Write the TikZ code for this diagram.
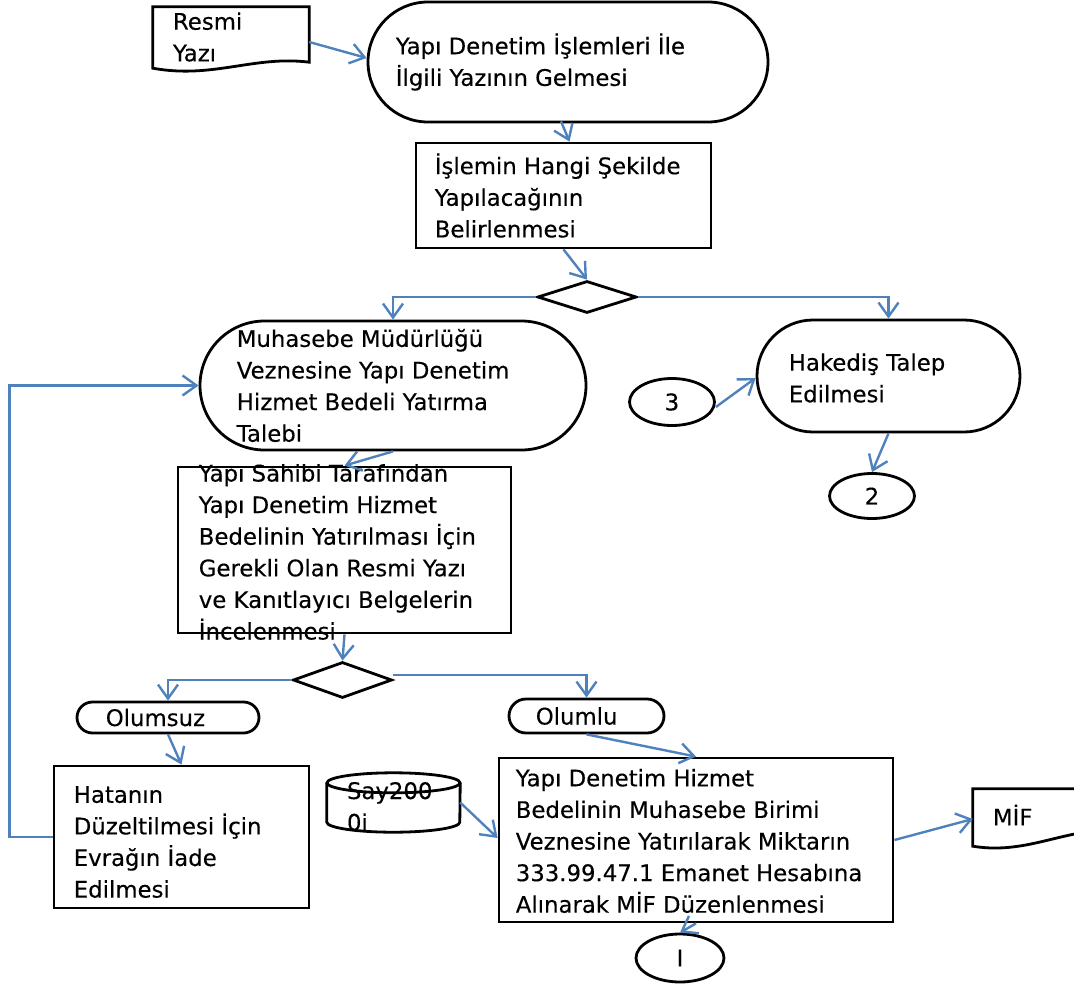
\documentclass[tikz,border=0pt]{standalone}
\usepackage{fontspec}
\setmainfont[FakeBold=0.3]{DejaVu Sans}
\usetikzlibrary{shapes.misc,shapes.geometric,arrows.meta,calc}
\definecolor{flowblue}{RGB}{79,129,189}
\newcommand{\flowfont}{\fontsize{22.8}{31.6}\selectfont}
\tikzset{
  blk/.style={draw, line width=2.8pt, inner sep=0pt},
  term/.style={blk, rounded rectangle},
  proc/.style={blk, rectangle},
  dec/.style={blk, diamond, aspect=3},
  conn/.style={blk, ellipse, font=\flowfont},
  doc/.style={rectangle, inner sep=0pt},
  docline/.style={line width=2.8pt},
  txt/.style={inner sep=0pt, align=left, anchor=west, font=\flowfont},
  flow/.style={draw=flowblue, line width=2.4pt, -{Straight Barb[length=14pt,width=20pt]}},
}
\begin{document}
\begin{tikzpicture}[x=1pt, y=-1pt]
  \useasboundingbox (0,0) rectangle (1074,985);
  \node[doc, minimum width=156pt, minimum height=60pt] (res) at (231,37) {};
  \node[term, minimum width=400pt, minimum height=120pt] (term1) at (568,62) {};
  \node[proc, minimum width=295pt, minimum height=105pt] (proc1) at (563.5,195.5) {};
  \node[dec, minimum width=99pt, minimum height=32pt] (dec1) at (587,297) {};
  \node[term, minimum width=386pt, minimum height=129pt] (muh) at (393,385.5) {};
  \node[term, minimum width=263pt, minimum height=112pt] (hak) at (888.5,376) {};
  \node[conn, minimum width=85pt, minimum height=47pt] (c3) at (672,402) {3};
  \node[conn, minimum width=85pt, minimum height=45pt] (c2) at (872,496) {2};
  \node[proc, minimum width=333pt, minimum height=166pt] (sahibi) at (344.5,550) {};
  \node[dec, minimum width=99pt, minimum height=36pt] (dec2) at (342.5,680) {};
  \node[term, minimum width=182pt, minimum height=31pt] (olz) at (168,717.5) {};
  \node[term, minimum width=155pt, minimum height=34pt] (olm) at (586.5,716) {};
  \node[proc, minimum width=255pt, minimum height=142pt] (hata) at (181.5,837) {};
  \node[doc, minimum width=133pt, minimum height=59pt] (say) at (393.5,802.5) {};
  \node[proc, minimum width=394pt, minimum height=164pt] (main) at (696,840) {};
  \node[doc, minimum width=156pt, minimum height=52pt] (mif) at (1051,815) {};
  \node[conn, minimum width=88pt, minimum height=48pt] (c1) at (680,958) {I};

  \draw[docline] (res.north west) -- (res.north east) -- ($(res.south east)+(0,-5)$)
    .. controls ($(res.south east)+(-55,-12)$) and ($(res.south west)+(60,12)$) .. ($(res.south west)+(0,1)$) -- cycle;
  \draw[docline] (mif.north west) -- (mif.north east) -- ($(mif.south east)+(0,-8)$)
    .. controls ($(mif.south east)+(-55,-20)$) and ($(mif.south west)+(60,15)$) .. ($(mif.south west)+(0,5)$) -- cycle;
  \draw[docline] ($(say.north)+(0,10)$) ellipse [x radius=66.5, y radius=10];
  \draw[docline] ($(say.north west)+(0,10)$) -- ($(say.south west)+(0,-10)$)
    arc [start angle=180, end angle=0, x radius=66.5, y radius=10] -- ($(say.north east)+(0,10)$);

  \node[txt] (res-t) at ($(res.west)+(20,0)$) {Resmi\\Yazı};
  \node[txt] (term1-t) at ($(term1.west)+(29,0)$) {Yapı Denetim İşlemleri İle\\İlgili Yazının Gelmesi};
  \node[txt] (proc1-t) at ($(proc1.west)+(20,0)$) {İşlemin Hangi Şekilde\\Yapılacağının\\Belirlenmesi};
  \node[txt] (muh-t) at ($(muh.west)+(38,0)$) {Muhasebe Müdürlüğü\\Veznesine Yapı Denetim\\Hizmet Bedeli Yatırma\\Talebi};
  \node[txt] (hak-t) at ($(hak.west)+(33,2)$) {Hakediş Talep\\Edilmesi};
  \node[txt] (sahibi-t) at ($(sahibi.west)+(22,2)$) {Yapı Sahibi Tarafından\\Yapı Denetim Hizmet\\Bedelinin Yatırılması İçin\\Gerekli Olan Resmi Yazı\\ve Kanıtlayıcı Belgelerin\\İncelenmesi};
  \node[txt] (olz-t) at ($(olz.west)+(30,0)$) {Olumsuz};
  \node[txt] (olm-t) at ($(olm.west)+(28,0)$) {Olumlu};
  \node[txt] (hata-t) at ($(hata.west)+(21,5)$) {Hatanın\\Düzeltilmesi İçin\\Evrağın İade\\Edilmesi};
  \node[txt] (say-t) at ($(say.west)+(20,4)$) {Say200\\0i};
  \node[txt] (main-t) at ($(main.west)+(18,1)$) {Yapı Denetim Hizmet\\Bedelinin Muhasebe Birimi\\Veznesine Yatırılarak Miktarın\\333.99.47.1 Emanet Hesabına\\Alınarak MİF Düzenlenmesi};
  \node[txt] (mif-t) at ($(mif.west)+(20,0)$) {MİF};

  \begin{scope}[flow]
    \draw ($(res.east)+(0,5)$) -- ($(term1.west)+(0,-4)$);
    \draw ($(term1.south)+(-7,-2)$) -- ($(proc1.north)+(6,0)$);
    \draw (proc1.south) -- (dec1.north);
    \draw (dec1.west) -| (muh.north);
    \draw (dec1.east) -| (hak.north);
    \draw ($(c3.east)+(0,5)$) -- ($(hak.west)+(0,2)$);
    \draw (hak.south) -- (c2.north);
    \draw (muh.south) -- (sahibi.north);
    \draw (sahibi.south) -- (dec2.north);
    \draw (dec2.west) -| (olz.north);
    \draw ($(dec2.east)+(0,-5)$) -| (olm.north);
    \draw (olz.south) -- (hata.north);
    \draw (hata.west) -- ++(-43,0) |- (muh.west);
    \draw (olm.south) -- (main.north);
    \draw (say.east) -- ($(main.west)+(0,-2)$);
    \draw (main.east) -- ($(mif.west)+(0,4)$);
    \draw (main.south) -- (c1.north);
  \end{scope}
\end{tikzpicture}
\end{document}
